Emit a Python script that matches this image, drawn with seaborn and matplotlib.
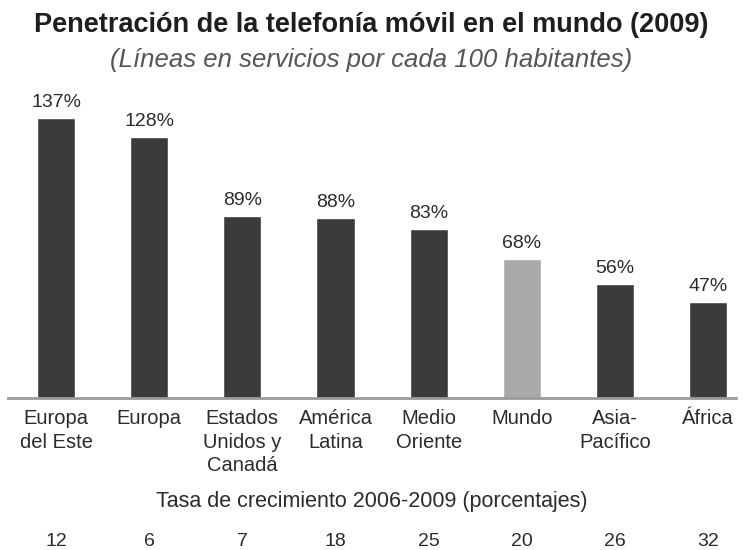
import matplotlib
matplotlib.use("Agg")
import matplotlib.pyplot as plt
import seaborn as sns

regions = ["Europa\ndel Este", "Europa", "Estados\nUnidos y\nCanadá", "América\nLatina",
           "Medio\nOriente", "Mundo", "Asia-\nPacífico", "África"]
penetration = [137, 128, 89, 88, 83, 68, 56, 47]
growth = [12, 6, 7, 18, 25, 20, 26, 32]
highlight = "Mundo"

DARK = "#3b3b3b"
LIGHT = "#a9a9a9"
TXT = "#2b2b2b"

sns.set_theme(style="white")
plt.rcParams["font.family"] = ["Liberation Sans", "DejaVu Sans"]

fig = plt.figure(figsize=(7.43, 5.5), dpi=100)
ax = fig.add_axes([8 / 743, 152 / 550, 728 / 743, 296 / 550])

colors = [LIGHT if r == highlight else DARK for r in regions]
sns.barplot(x=regions, y=penetration, hue=regions, palette=colors, width=0.41,
            legend=False, ax=ax, saturation=1)

ax.set_xlim(-0.516, 7.30)
ax.set_ylim(0, 145)
ax.set_yticks([])
for s in ["top", "right", "left"]:
    ax.spines[s].set_visible(False)
ax.spines["bottom"].set_color("#9a9a9a")
ax.spines["bottom"].set_linewidth(2)

# value labels above the bars
for i, v in enumerate(penetration):
    ax.annotate(f"{v}%", (i, v), xytext=(0, 5), textcoords="offset points",
                ha="center", va="bottom", fontsize=14, color=TXT)

ax.tick_params(axis="x", length=0, pad=8)
ax.set_xticks(range(len(regions)))
ax.set_xticklabels(regions, fontsize=14.5, color=TXT, va="top", linespacing=1.3)

fig.text(0.5, 1 - 32 / 550, "Penetración de la telefonía móvil en el mundo (2009)",
         ha="center", va="baseline", fontsize=19.5, fontweight="bold", color="#1e1e1e")
fig.text(0.5, 1 - 67 / 550, "(Líneas en servicios por cada 100 habitantes)",
         ha="center", va="baseline", fontsize=18.5, style="italic", color="#555555")

# growth rate row below the chart
fig.text(0.5, 1 - 507 / 550, "Tasa de crecimiento 2006-2009 (porcentajes)",
         ha="center", va="baseline", fontsize=15.5, color=TXT)
for i, g in enumerate(growth):
    ax.annotate(str(g), (i, 1 - 546 / 550), xycoords=("data", "figure fraction"),
                ha="center", va="baseline", fontsize=14, color=TXT,
                annotation_clip=False)

fig.savefig("out.png", dpi=100)
